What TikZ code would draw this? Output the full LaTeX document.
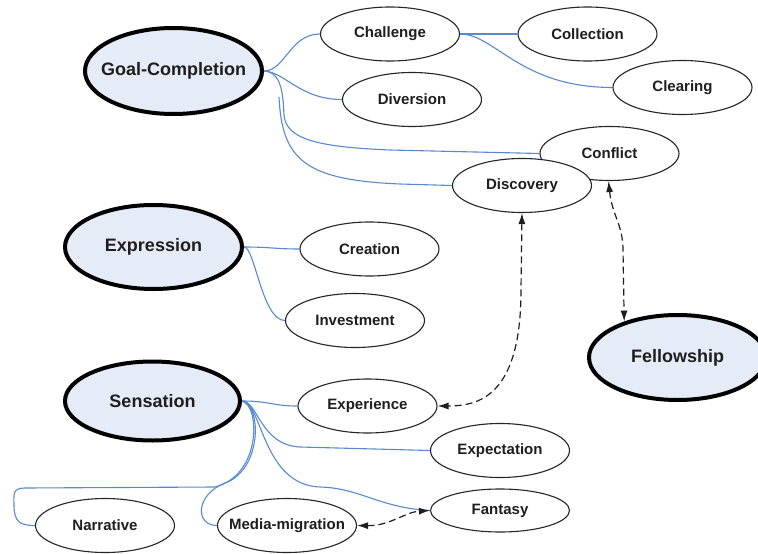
\documentclass[tikz,border=0pt]{standalone}
\usepackage{fontspec}
\setmainfont{Liberation Sans}
\usetikzlibrary{shapes.geometric,arrows.meta}
\definecolor{hubfill}{RGB}{230,236,247}
\definecolor{linkblue}{RGB}{88,136,208}
\definecolor{inkgray}{RGB}{30,30,30}
\pgfdeclarelayer{bg}
\pgfsetlayers{bg,main}
\begin{document}
\begin{tikzpicture}[x=1pt,y=-1pt,
  hub/.style={ellipse, draw=black, line width=4pt, fill=hubfill,
    inner xsep=-40pt, inner ysep=0pt,
    font=\fontsize{18}{20}\selectfont\bfseries, text=inkgray},
  leaf/.style={ellipse, draw=black!85, line width=1.1pt, fill=white,
    inner xsep=-40pt, inner ysep=0pt, minimum width=139pt, minimum height=54pt,
    font=\fontsize{15}{17}\selectfont\bfseries, text=inkgray},
  link/.style={draw=linkblue, line width=1.1pt},
  assoc/.style={draw=inkgray, line width=1.2pt, dash pattern=on 7pt off 4pt,
    {Latex[length=11pt,width=7pt]}-{Latex[length=11pt,width=7pt]}}
]
\useasboundingbox (0,0) rectangle (758,554);
\clip (0,0) rectangle (758,554);

% main categories
\node[hub, minimum width=177pt, minimum height=86pt] (goal) at (173.5,71) {Goal-Completion};
\node[hub, minimum width=177pt, minimum height=84pt] (expr) at (153.5,247) {Expression};
\node[hub, minimum width=175pt, minimum height=79pt] (sens) at (152.5,401) {Sensation};
\node[hub, minimum width=177pt, minimum height=85pt] (fell) at (677.5,357.5) {Fellowship};

% sub-categories
\node[leaf] (chal)  at (390,34)     {Challenge};
\node[leaf] (coll)  at (587.5,34)   {Collection};
\node[leaf] (clear) at (682.5,87.5) {Clearing};
\node[leaf] (div)   at (412,99.5)   {Diversion};
\node[leaf] (conf)  at (609.5,153.5) {Conflict};
\node[leaf] (disc)  at (522,185.5)  {Discovery};
\node[leaf] (creat) at (369.5,249)  {Creation};
\node[leaf] (inv)   at (355,320.5)  {Investment};
\node[leaf] (expe)  at (367.5,406)  {Experience};
\node[leaf] (expt)  at (500,450.5)  {Expectation};
\node[leaf, minimum height=43pt] (fan) at (500,510.5) {Fantasy};
\node[leaf] (narr)  at (105,525.5)  {Narrative};
\node[leaf] (mm)    at (287,525.5)  {Media-migration};

\coordinate (dtail) at (279,97);

\begin{pgfonlayer}{bg}
  % Goal-Completion branches
  \draw[link] (goal.east) .. controls (285,71) and (290,34) .. (chal.west);
  \draw[link] (goal.east) .. controls (285,72) and (300,99.5) .. (div.west);
  \draw[link] (goal.east) .. controls (282,72) and (283,95) .. (284,115)
    .. controls (286,140) and (320,147) .. (390,150) -- (conf.west);
  \draw[link] (dtail) .. controls (282,160) and (305,180) .. (400,184) -- (disc.west);
  \draw[link] (chal.east) -- (coll.west);
  \draw[link] (chal.east) .. controls (495,34) and (520,87.5) .. (clear.west);
  % Expression branches
  \draw[link] (expr.east) .. controls (270,247) and (275,249) .. (creat.west);
  \draw[link] (expr.east) .. controls (255,247) and (262,320.5) .. (inv.west);
  % Sensation branches
  \draw[link] (sens.east) .. controls (270,401) and (272,406) .. (expe.west);
  \draw[link] (sens.east) .. controls (258,401) and (260,445) .. (300,447) -- (expt.west);
  \draw[link] (sens.east) .. controls (262,401) and (262,485) .. (320,487)
    .. controls (360,488) and (380,508) .. (fan.west);
  \draw[link] (sens.east) .. controls (260,405) and (262,475) .. (215,487) -- (25,488)
    .. controls (12,488) and (14,495) .. (14,505)
    .. controls (14,522) and (20,525.5) .. (narr.west);
  \draw[link] (sens.east) .. controls (262,405) and (262,470) .. (225,483)
    .. controls (195,495) and (195,525.5) .. (mm.west);
\end{pgfonlayer}

% associations
\draw[assoc] (disc.south) -- (521,290) .. controls (521,395) and (480,406) .. (expe.east);
\draw[assoc] (conf.268) .. controls (612,215) and (623,225) .. (623,250) -- (fell.146);
\draw[assoc] (mm.east) .. controls (390,526) and (405,512) .. (fan.west);
\end{tikzpicture}
\end{document}
